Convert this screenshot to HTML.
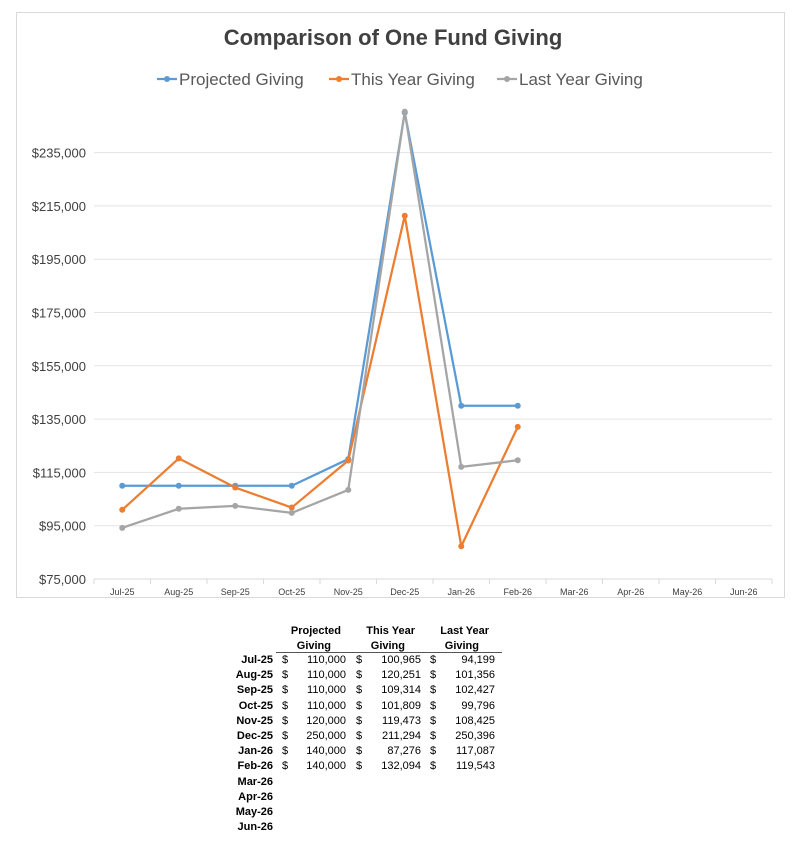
<!DOCTYPE html>
<html><head><meta charset="utf-8"><style>
body{margin:0;background:#fff;width:800px;height:845px;position:relative;font-family:"Liberation Sans",sans-serif;overflow:hidden}
#frame{position:absolute;left:16px;top:12px;width:769px;height:586px;border:1px solid #d9d9d9;box-sizing:border-box}
.t{position:absolute;font-size:11px;color:#000;white-space:nowrap}
.b{font-weight:bold}
</style></head><body>
<div id="frame"></div>
<svg id="chart" width="800" height="600" style="position:absolute;left:0;top:0"></svg>
<div id="table"></div>
<script>
const categories=["Jul-25","Aug-25","Sep-25","Oct-25","Nov-25","Dec-25","Jan-26","Feb-26","Mar-26","Apr-26","May-26","Jun-26"];
const projected=[110000,110000,110000,110000,120000,250000,140000,140000];
const thisYear=[100965,120251,109314,101809,119473,211294,87276,132094];
const lastYear=[94199,101356,102427,99796,108425,250396,117087,119543];
const yTicks=[75000,95000,115000,135000,155000,175000,195000,215000,235000];
const seriesNames=["Projected Giving","This Year Giving","Last Year Giving"];
const colors=["#5b9bd5","#ed7d31","#a5a5a5"];
const NS="http://www.w3.org/2000/svg";
const svg=document.getElementById('chart');
const L=94,R=772,band=(R-L)/12;
const x=i=>L+band*(i+0.5);
const y=v=>579-(v-75000)/20000*53.3;
function el(t,a,p){const e=document.createElementNS(NS,t);for(const k in a)e.setAttribute(k,a[k]);(p||svg).appendChild(e);return e;}
let tt=el('text',{x:393,y:45,'text-anchor':'middle','font-size':22,'font-weight':'bold',fill:'#404040'});tt.textContent="Comparison of One Fund Giving";

yTicks.forEach(v=>{
 const g=el('line',{x1:L,x2:R,y1:y(v),y2:y(v),stroke:v===75000?'#d9d9d9':'#e3e3e3','stroke-width':1});
 
 const t=el('text',{x:86,y:y(v)+5,'text-anchor':'end','font-size':13,fill:'#404040'});
 t.textContent='$'+v.toLocaleString('en-US');
 
});
for(let i=0;i<=12;i++){const k=el('line',{x1:L+band*i,x2:L+band*i,y1:579,y2:584,stroke:'#d9d9d9'});}
categories.forEach((c,i)=>{const t=el('text',{x:x(i),y:595,'text-anchor':'middle','font-size':9,fill:'#404040'});t.textContent=c;});
[projected,thisYear,lastYear].forEach((s,si)=>{
 const p=el('polyline',{points:s.map((v,i)=>x(i)+','+y(v)).join(' '),fill:'none',stroke:colors[si],'stroke-width':2.25,'stroke-linejoin':'round'});
 
 s.forEach((v,i)=>{const c=el('circle',{cx:x(i),cy:y(v),r:3,fill:colors[si]});});
});
const lx=[157,329,497];
seriesNames.forEach((n,i)=>{
 const g=el('g',{});
 el('line',{x1:lx[i],x2:lx[i]+20,y1:79,y2:79,stroke:colors[i],'stroke-width':2.25},g);
 el('circle',{cx:lx[i]+10,cy:79,r:3,fill:colors[i]},g);
 const t=el('text',{x:lx[i]+22,y:85,'font-size':17,fill:'#595959'},g);t.textContent=n;
});
const tb=document.getElementById('table');
function tx(s,l,t,cls,anchorRight,name){const d=document.createElement('div');d.className='t '+(cls||'');d.textContent=s;d.style.top=t+'px';
 if(anchorRight){d.style.right=(800-l)+'px';}else d.style.left=l+'px';
 tb.appendChild(d);}
const hdr=[["Projected","Giving",314],["This Year","Giving",388],["Last Year","Giving",462]];
hdr.forEach(h=>{tx(h[0],h[2]+27,625,'b',true,'column-header');tx(h[1],h[2]+17,640,'b',true,'column-header');});
const ul=document.createElement('div');ul.style.cssText='position:absolute;left:276px;top:652px;width:226px;height:1px;background:#555';tb.appendChild(ul);
const fmt=v=>v.toLocaleString('en-US');
categories.forEach((c,i)=>{
 const top=654+i*15.2;
 tx(c,273,top,'b',true,'row-label');
 if(i<projected.length){
  [[projected,282,346],[thisYear,356,421],[lastYear,430,495]].forEach(col=>{
   tx('$',col[1],top,'',false,'currency-symbol');tx(fmt(col[0][i]),col[2],top,'',true,'table-value');
  });
 }
});
</script>
</body></html>
